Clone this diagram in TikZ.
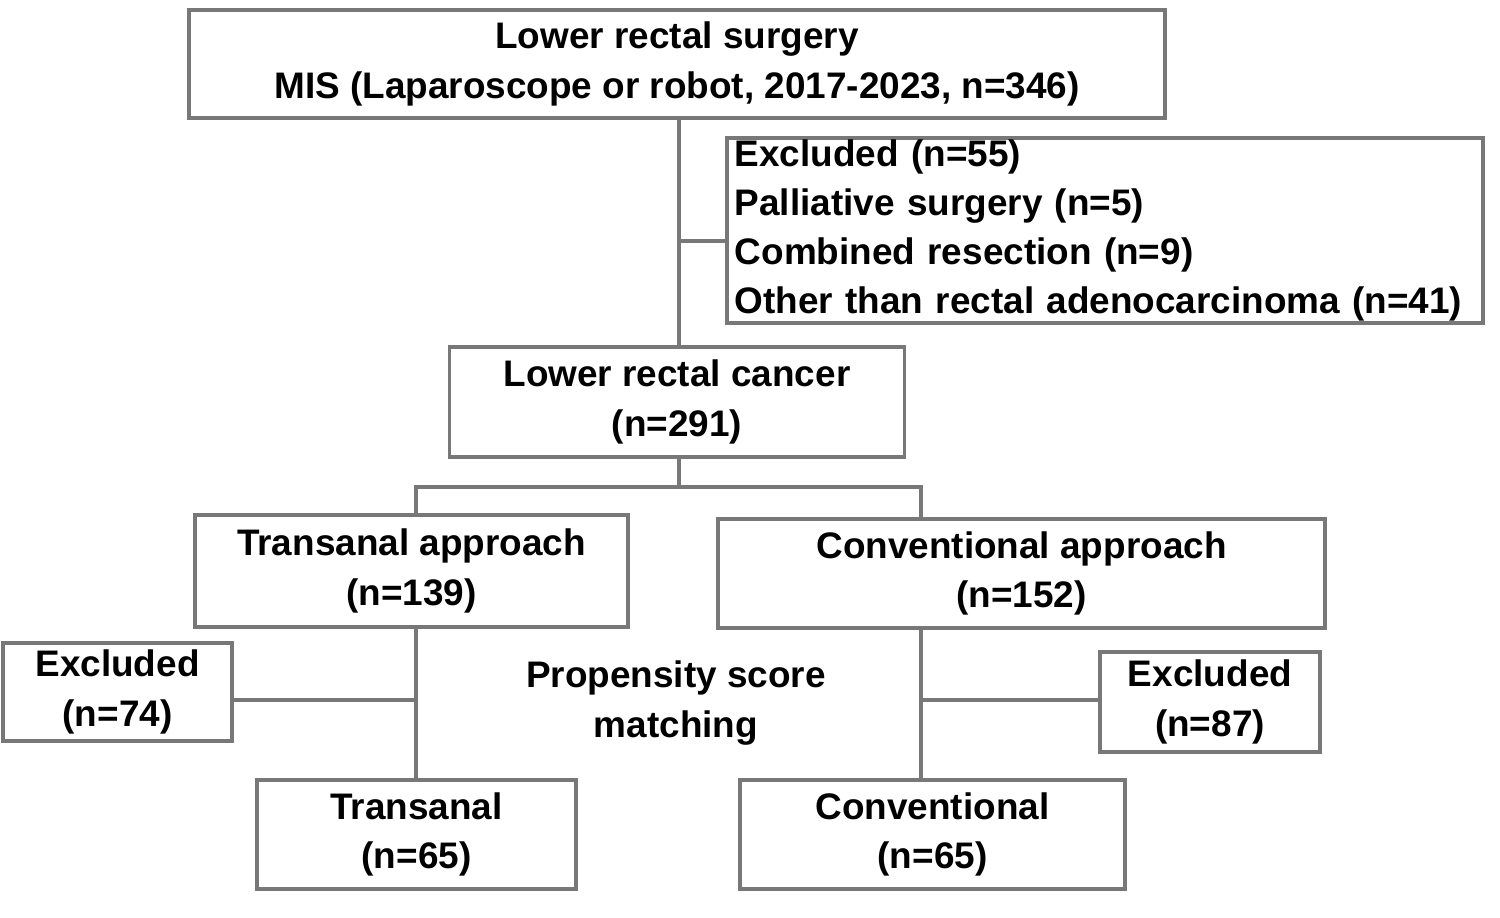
\documentclass[tikz,border=0pt]{standalone}
\usepackage{fontspec}
\setmainfont{Liberation Sans}
\usetikzlibrary{positioning}
\definecolor{boxgray}{RGB}{120,120,120}
\tikzset{
  box/.style={draw=boxgray, line width=1pt, align=center, inner sep=0pt, font=\bfseries\fontsize{10.5}{14}\selectfont},
  link/.style={draw=boxgray, line width=1pt}
}
\begin{document}
\begin{tikzpicture}[x=0.01cm, y=-0.01cm]
\useasboundingbox (0,0) rectangle (1500,917);
% Boxes
\node[box, minimum width=9.75cm, minimum height=1.08cm] (surg) at (677,64) {Lower rectal surgery\\MIS (Laparoscope or robot, 2017-2023, n=346)};
\node[box, minimum width=7.56cm, minimum height=1.85cm, align=left, text width=7.4cm] (excl) at (1105,230.5) {Excluded (n=55)\\Palliative surgery (n=5)\\Combined resection (n=9)\\Other than rectal adenocarcinoma (n=41)};
\node[box, minimum width=4.55cm, minimum height=1.1cm] (canc) at (677,402) {Lower rectal cancer\\(n=291)};
\node[box, minimum width=4.33cm, minimum height=1.12cm] (tapp) at (411.5,571) {Transanal approach\\(n=139)};
\node[box, minimum width=6.07cm, minimum height=1.09cm] (capp) at (1021.5,573.5) {Conventional approach\\(n=152)};
\node[box, minimum width=2.29cm, minimum height=0.98cm] (texc) at (117.5,692) {Excluded\\(n=74)};
\node[box, minimum width=2.2cm, minimum height=1cm] (cexc) at (1210,702) {Excluded\\(n=87)};
\node[box, minimum width=3.19cm, minimum height=1.09cm] (tm) at (416.5,834.5) {Transanal\\(n=65)};
\node[box, minimum width=3.85cm, minimum height=1.09cm] (cm) at (932.5,834.5) {Conventional\\(n=65)};
\node[font=\bfseries\fontsize{10.5}{14}\selectfont, align=center] (psm) at (676,703) {Propensity score\\matching};
% Connectors
\coordinate (j1) at (679,241);
\coordinate (j2) at (679,487);
\coordinate (j3) at (416,700);
\coordinate (j4) at (921,700);
\draw[link] (surg.south -| j1) -- (canc.north -| j1);
\draw[link] (j1) -- (excl.west |- j1);
\draw[link] (canc.south -| j2) -- (j2);
\draw[link] (tapp.north -| j3) |- (j2) -| (capp.north -| j4);
\draw[link] (tapp.south -| j3) -- (tm.north -| j3);
\draw[link] (j3) -- (texc.east |- j3);
\draw[link] (capp.south -| j4) -- (cm.north -| j4);
\draw[link] (j4) -- (cexc.west |- j4);
\end{tikzpicture}
\end{document}
